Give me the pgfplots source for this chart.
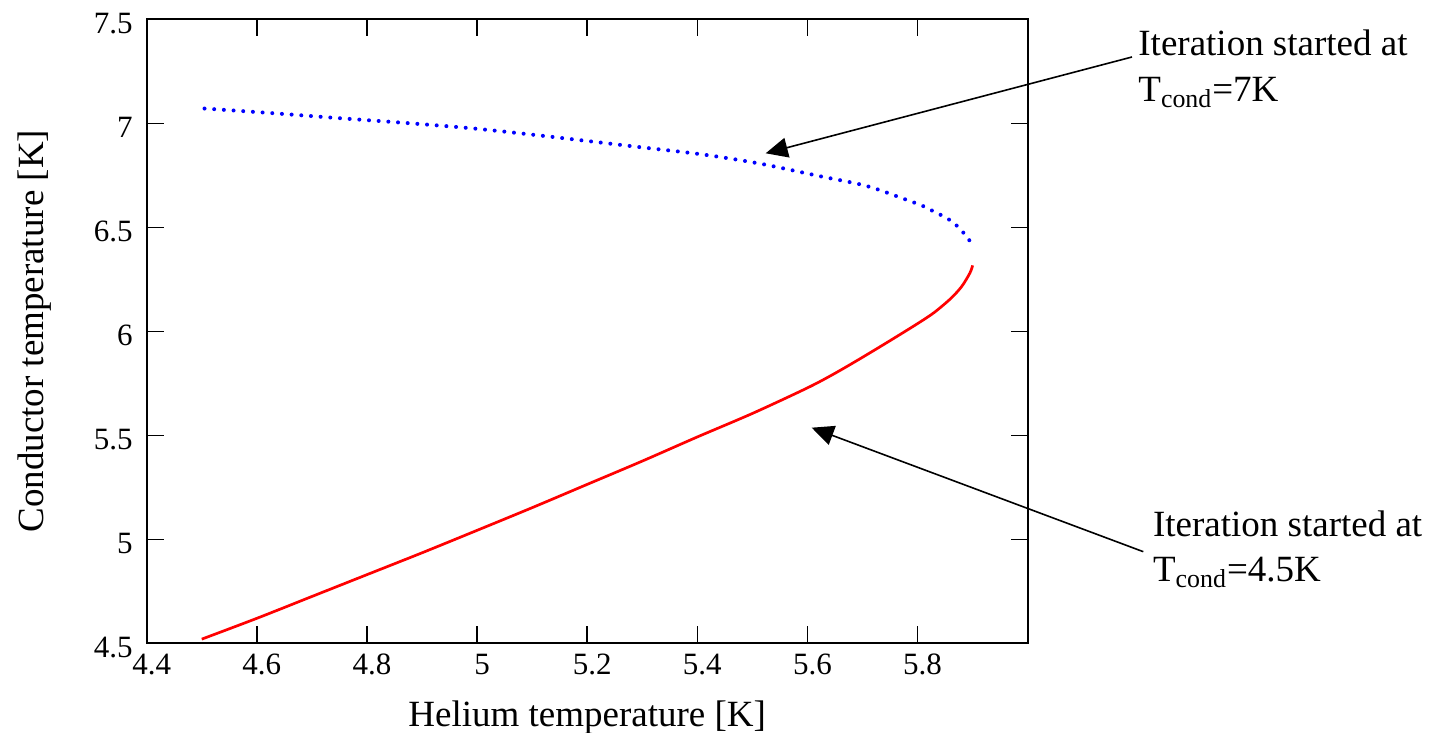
\documentclass[border=0pt]{standalone}
\usepackage{pgfplots}
\pgfplotsset{compat=1.18}
\usepackage{fontspec}
\setmainfont{Liberation Serif}
\usetikzlibrary{arrows.meta}
\begin{document}
\begin{tikzpicture}
\begin{axis}[
  scale only axis,
  width=440.5pt, height=312pt,
  at={(0,0)}, anchor=south west,
  xmin=4.4, xmax=6.0, ymin=4.5, ymax=7.5,
  xtick={4.4,4.6,4.8,5.0,5.2,5.4,5.6,5.8},
  xticklabels={4.4,4.6,4.8,5,5.2,5.4,5.6,5.8},
  ytick={4.5,5,5.5,6,6.5,7,7.5},
  yticklabels={4.5,5,5.5,6,6.5,7,7.5},
  /pgf/number format/assume math mode=true,
  tick align=inside,
  major tick length=8.5pt,
  every tick/.style={black, line width=0.75pt},
  axis line style={black, line width=0.85pt},
  ticklabel style={font=\fontsize{15.5}{18}\selectfont},
  xticklabel style={xshift=2.5pt, yshift=-2pt},
  yticklabel style={xshift=-3.5pt, yshift=-2pt},
  label style={font=\fontsize{18.5}{22}\selectfont},
  xlabel={Helium temperature [K]},
  ylabel={Conductor temperature [K]},
  xlabel style={at={(axis description cs:0.5,-0.1341)}, anchor=base},
  ylabel style={at={(axis description cs:-0.1174,0.5)}, anchor=base, rotate=0},
  clip=false,
]
\addplot[red, line width=1.35pt, no markers, smooth] coordinates {
(4.500,4.520) (4.600,4.620) (4.700,4.725) (4.800,4.830) (4.900,4.935)
(5.000,5.043) (5.100,5.152) (5.200,5.264) (5.300,5.376) (5.400,5.492)
(5.500,5.605) (5.600,5.728) (5.650,5.798) (5.700,5.875) (5.750,5.955)
(5.800,6.037) (5.830,6.090) (5.860,6.157) (5.880,6.215) (5.895,6.280)
(5.900,6.317)
};
\addplot[blue, line width=2.0pt, line cap=round, dash pattern=on 0pt off 4.85pt, no markers, smooth] coordinates {
(4.505,7.071) (4.632,7.048) (4.753,7.024) (4.874,7.001) (4.994,6.975)
(5.112,6.942) (5.200,6.915) (5.300,6.884) (5.410,6.850) (5.514,6.806)
(5.620,6.747) (5.707,6.699) (5.777,6.635) (5.810,6.602) (5.828,6.578)
(5.846,6.554) (5.864,6.525) (5.881,6.481) (5.895,6.434)
};
\end{axis}
\draw[black, line width=0.8pt, -{Triangle[length=11pt,width=10pt]}] (492.65pt,293.15pt) -- (309.5pt,245.0pt);
\draw[black, line width=0.8pt, -{Triangle[length=11pt,width=10pt]}] (498.3pt,45.8pt) -- (332.5pt,107.8pt);
\node[anchor=base west, inner sep=0pt, font=\fontsize{18.5}{22}\selectfont] at (495.65pt,293.65pt) {Iteration started at};
\node[anchor=base west, inner sep=0pt, font=\fontsize{18.5}{22}\selectfont] at (495.65pt,270.8pt) {T\textsubscript{cond}=7K};
\node[anchor=base west, inner sep=0pt, font=\fontsize{18.5}{22}\selectfont] at (503pt,53.3pt) {Iteration started at};
\node[anchor=base west, inner sep=0pt, font=\fontsize{18.5}{22}\selectfont] at (503pt,30.8pt) {T\textsubscript{cond}=4.5K};
\pgfresetboundingbox
\path (-73.35pt,-44.85pt) rectangle (644.65pt,321.65pt);
\end{tikzpicture}
\end{document}
